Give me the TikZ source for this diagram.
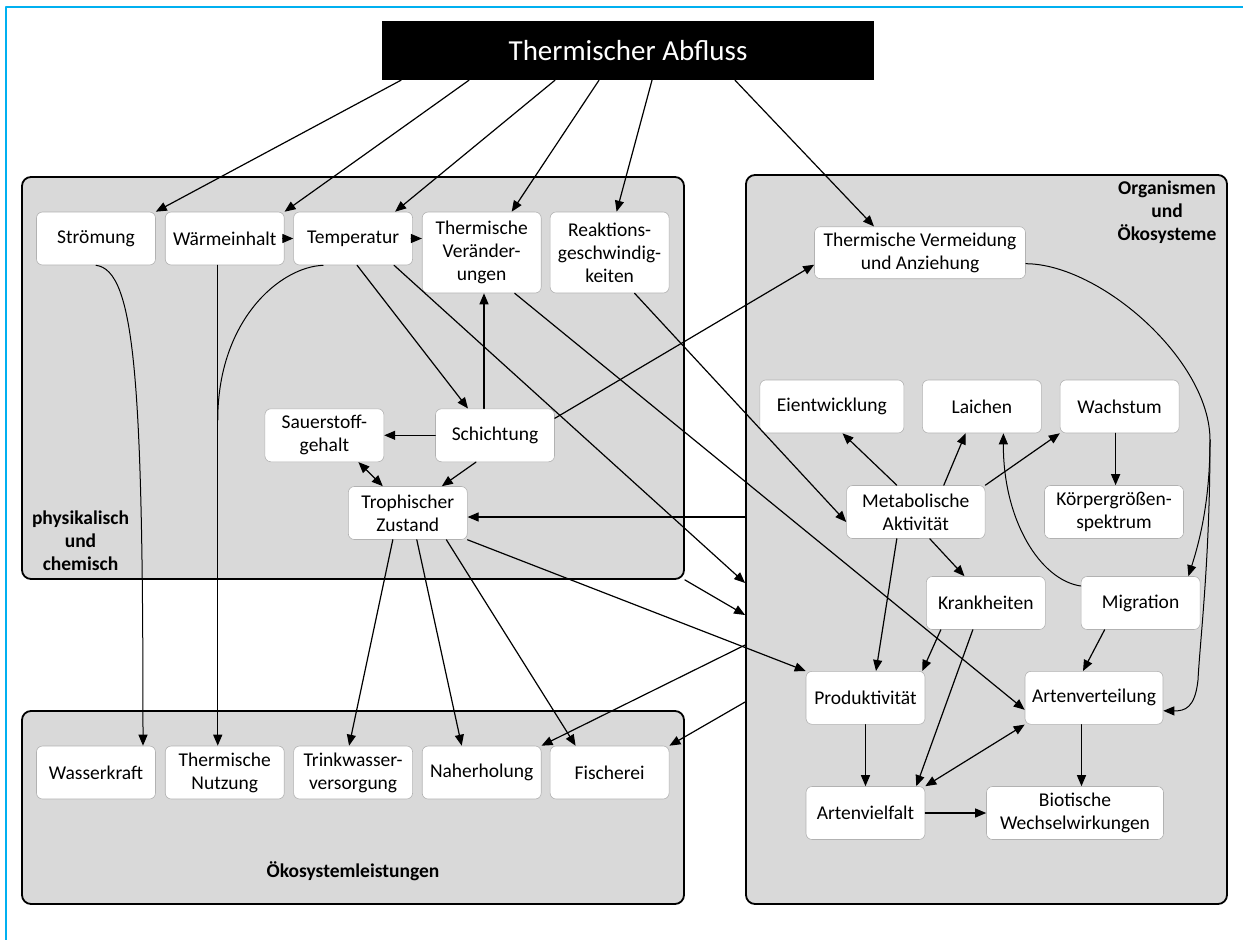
\documentclass[tikz,border=0pt]{standalone}
\usepackage{fontspec}
\setmainfont{Carlito}
\usetikzlibrary{arrows.meta}
\definecolor{boxgray}{RGB}{217,217,217}
\definecolor{framecyan}{RGB}{0,176,240}
\newcommand{\diagfont}{\fontsize{19.5}{23}\selectfont}

\begin{document}
\begin{tikzpicture}[line cap=round,line join=round,>={Triangle[length=11pt,width=9pt]},x=1pt,y=-1pt,
  group/.style={draw, line width=1.8pt, fill=boxgray, rounded corners=9pt, inner sep=0pt},
  item/.style={draw=gray!60, line width=0.6pt, fill=white, rounded corners=6pt, align=center, inner sep=1pt, minimum width=119pt, minimum height=53pt, font=\diagfont},
  tag/.style={align=center, font=\diagfont\bfseries},
  arr/.style={->, line width=1.2pt}]

\useasboundingbox (0,0) rectangle (1243,940);
\draw[framecyan, line width=2pt] (1243,7) -- (6,7) -- (6,940);

\node[group, minimum width=662pt, minimum height=402pt] (physbox) at (353,378) {};
\node[group, minimum width=662pt, minimum height=193pt] (leistbox) at (353,807.5) {};
\node[group, minimum width=481pt, minimum height=729pt] (orgbox) at (986.5,539.5) {};

\node[tag] at (80.5,540.7) {physikalisch\\und\\chemisch};
\node[tag] at (1167,212.5) {Organismen\\und\\Ökosysteme};
\node[tag] at (353,871.7) {Ökosystemleistungen};

\node[fill=black, text=white, minimum width=492pt, minimum height=59pt, font=\fontsize{29}{34}\selectfont] (abfluss) at (628,50.5) {Thermischer Abfluss};

\node[item] (stroemung) at (96,238.5) {Strömung};
\node[item] (waerme) at (224.75,238.5) {Wärmeinhalt};
\node[item] (temperatur) at (353.1,238.5) {Temperatur};
\node[item, minimum height=81pt] (thermver) at (481.7,252.5) {Thermische\\Veränder-\\ungen};
\node[item, minimum height=81pt] (reaktion) at (609.6,252.5) {Reaktions-\\geschwindig-\\keiten};
\node[item] (sauerstoff) at (324.4,435.3) {Sauerstoff-\\gehalt};
\node[item] (schichtung) at (495,435.3) {Schichtung};
\node[item] (trophisch) at (407.8,513) {Trophischer\\Zustand};

\node[item, minimum width=211pt, minimum height=52pt] (vermeidung) at (920,252.7) {Thermische Vermeidung\\und Anziehung};
\node[item, minimum width=144pt] (eient) at (831.9,406.5) {Eientwicklung};
\node[item] (laichen) at (981.9,406.5) {Laichen};
\node[item] (wachstum) at (1119.6,406.5) {Wachstum};
\node[item, minimum width=138.5pt] (metabol) at (915.8,512) {Metabolische\\Aktivität};
\node[item, minimum width=139pt] (koerper) at (1114,512) {Körpergrößen-\\spektrum};
\node[item] (krank) at (985.8,603) {Krankheiten};
\node[item] (migration) at (1140.6,603) {Migration};
\node[item] (produkt) at (865.5,697.8) {Produktivität};
\node[item, minimum width=138pt] (artenvert) at (1094,697.8) {Artenverteilung};
\node[item] (artenviel) at (865.5,813) {Artenvielfalt};
\node[item, minimum width=177pt] (biotisch) at (1075,813) {Biotische\\Wechselwirkungen};

\node[item] (wasserkraft) at (96,772.5) {Wasserkraft};
\node[item] (thnutzung) at (224.75,772.5) {Thermische\\Nutzung};
\node[item] (trinkwasser) at (353.1,772.5) {Trinkwasser-\\versorgung};
\node[item] (naherholung) at (481.7,772.5) {Naherholung};
\node[item] (fischerei) at (609.6,772.5) {Fischerei};

\coordinate (nutzjoin) at (217.75,420);
\coordinate (split) at (1210,440);
\coordinate (tz) at ([yshift=-4pt]trophisch.east);

% from the discharge
\draw[arr] ([xshift=-227pt]abfluss.south) -- (stroemung.north east);
\draw[arr] ([xshift=-159pt]abfluss.south) -- (waerme.north east);
\draw[arr] ([xshift=-73pt]abfluss.south) -- ([xshift=42pt]temperatur.north);
\draw[arr] ([xshift=-29pt]abfluss.south) -- ([xshift=30pt]thermver.north);
\draw[arr] ([xshift=24pt]abfluss.south) -- ([xshift=7pt]reaktion.north);
\draw[arr] ([xshift=107pt]abfluss.south) -- ([xshift=-46pt]vermeidung.north);

% physical and chemical
\draw[arr] (waerme.east) -- (temperatur.west);
\draw[arr] (temperatur.east) -- (temperatur.east -| thermver.west);
\draw[arr, line width=1pt] (stroemung.south) .. controls +(39,5) and +(0,-366) .. ([xshift=47pt]wasserkraft.north);
\draw[arr] ([xshift=-7pt]waerme.south) -- ([xshift=-7pt]thnutzung.north);
\draw[line width=1pt] ([xshift=-30pt]temperatur.south) .. controls (280,267) and (217.75,320) .. (nutzjoin);
\draw[arr] ([xshift=4pt]temperatur.south) -- ([xshift=-27pt]schichtung.north);
\draw[arr] ([xshift=41pt]temperatur.south) -- ([yshift=-43.5pt]orgbox.west);
\draw[arr] ([xshift=33pt]thermver.south) -- ([yshift=-12pt]artenvert.west);
\draw[arr] ([xshift=25pt]reaktion.south) -- ([yshift=-10pt]metabol.west);
\draw[arr] (schichtung.west) -- (sauerstoff.east);
\draw[arr] ([xshift=-11pt]schichtung.north) -- ([xshift=-11pt]schichtung.north |- thermver.south);
\draw[arr] ([xshift=-19pt]schichtung.south) -- ([xshift=34pt]trophisch.north);
\draw[<->, line width=1.2pt] ([xshift=34pt]sauerstoff.south) -- ([xshift=-25pt]trophisch.north);
\draw[arr] ([yshift=17pt]schichtung.east) -- ([yshift=-12pt]vermeidung.west);
\draw[arr] (orgbox.west |- tz) -- (tz);
\draw[arr] (trophisch.south east) -- (produkt.north west);
\draw[arr] (physbox.south east) -- ([yshift=-75.5pt]orgbox.west);

% services
\draw[arr] ([xshift=-15pt]trophisch.south) -- ([xshift=-4pt]trinkwasser.north);
\draw[arr] ([xshift=9pt]trophisch.south) -- ([xshift=-20pt]naherholung.north);
\draw[arr] ([xshift=38.6pt]trophisch.south) -- ([xshift=-34pt]fischerei.north);
\draw[arr] ([yshift=-105.5pt]orgbox.west) -- (naherholung.north east);
\draw[arr] ([yshift=-162.5pt]orgbox.west) -- (fischerei.north east);

% organisms and ecosystems
\draw[line width=1pt] ([yshift=-11pt]vermeidung.east) .. controls (1100,264) and (1210,360) .. (split);
\draw[arr, line width=1pt] (split) .. controls (1210,500) and (1200,540) .. ([xshift=-12pt]migration.north east);
\draw[arr, line width=1pt] (split) .. controls (1210,560) and (1200,640) .. (1198,680) .. controls (1195,708) and (1185,711) .. ([yshift=-13pt]artenvert.east);
\draw[arr] ([xshift=-19pt]metabol.north) -- ([xshift=10.6pt]eient.south);
\draw[arr] ([xshift=28pt]metabol.north) -- ([xshift=-16.3pt]laichen.south);
\draw[arr] (metabol.north east) -- (wachstum.south west);
\draw[arr] ([xshift=-4pt]wachstum.south) -- ([xshift=-4pt]wachstum.south |- koerper.north);
\draw[arr, line width=1pt] ([yshift=17pt]migration.west) .. controls (1040,580) and (1003,520) .. ([xshift=21.5pt]laichen.south);
\draw[arr] ([xshift=14pt]metabol.south) -- ([xshift=-21.3pt]krank.north);
\draw[arr] ([xshift=-19pt]metabol.south) -- ([xshift=10.5pt]produkt.north);
\draw[arr] ([xshift=-45pt]krank.south) -- ([xshift=-3pt]produkt.north east);
\draw[arr] ([xshift=-13pt]krank.south) -- ([xshift=-9pt]artenviel.north east);
\draw[arr] ([xshift=-36pt]migration.south) -- ([xshift=-11pt]artenvert.north);
\draw[arr] (produkt.south) -- (artenviel.north);
\draw[arr] ([xshift=-12.5pt]artenvert.south) -- ([xshift=-12.5pt]artenvert.south |- biotisch.north);
\draw[arr] (artenviel.east) -- (biotisch.west);
\draw[<->, line width=1.2pt] (artenviel.north east) -- (artenvert.south west);
\end{tikzpicture}
\end{document}
